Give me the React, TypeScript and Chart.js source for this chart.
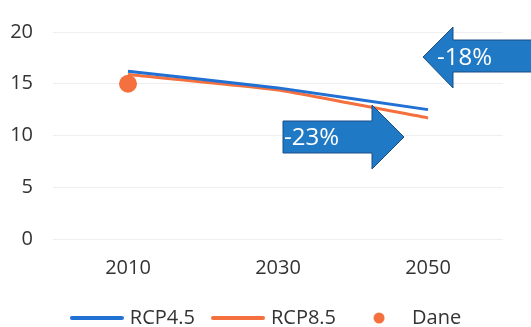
import React, { useEffect, useRef } from "react";
import { Chart, registerables } from "chart.js";

Chart.register(...registerables);

const categories = ["2010", "2030", "2050"];
const rcp45 = [16.2, 14.6, 12.5];
const rcp85 = [15.9, 14.4, 11.7];
const dane = [15.0, null, null];
const yTicks = [0, 5, 10, 15, 20];
const arrowLabels = ["-18%", "-23%"];

const FONT = "'Open Sans', sans-serif";
const BLUE = "#2170d4";
const ORANGE = "#f4703e";
const ARROW_FILL = "#1f79c4";
const ARROW_STROKE = "#1a4f88";

function lineIcon(color: string) {
  const c = document.createElement("canvas");
  c.width = 54;
  c.height = 8;
  const g = c.getContext("2d")!;
  g.strokeStyle = color;
  g.lineWidth = 4;
  g.lineCap = "round";
  g.beginPath();
  g.moveTo(2, 4);
  g.lineTo(52, 4);
  g.stroke();
  return c;
}

function dotIcon(color: string) {
  const c = document.createElement("canvas");
  c.width = 12;
  c.height = 12;
  const g = c.getContext("2d")!;
  g.fillStyle = color;
  g.beginPath();
  g.arc(6, 6, 5.5, 0, Math.PI * 2);
  g.fill();
  return c;
}

const arrowsPlugin = {
  id: "arrows",
  afterDatasetsDraw(chart: any) {
    const ctx = chart.ctx;
    ctx.save();
    ctx.fillStyle = ARROW_FILL;
    ctx.strokeStyle = ARROW_STROKE;
    ctx.lineWidth = 1;
    // left arrow (-18%)
    ctx.beginPath();
    ctx.moveTo(423, 57);
    ctx.lineTo(453, 27);
    ctx.lineTo(453, 40);
    ctx.lineTo(540, 40);
    ctx.lineTo(540, 72);
    ctx.lineTo(453, 72);
    ctx.lineTo(453, 88);
    ctx.closePath();
    ctx.fill();
    ctx.stroke();
    // right arrow (-23%)
    ctx.beginPath();
    ctx.moveTo(283, 121);
    ctx.lineTo(372, 121);
    ctx.lineTo(372, 105);
    ctx.lineTo(404, 137);
    ctx.lineTo(372, 169);
    ctx.lineTo(372, 153);
    ctx.lineTo(283, 153);
    ctx.closePath();
    ctx.fill();
    ctx.stroke();
    ctx.fillStyle = "#ffffff";
    ctx.font = `24px ${FONT}`;
    ctx.textBaseline = "middle";
    ctx.textAlign = "left";
    ctx.fillText(arrowLabels[0], 437, 58);
    ctx.fillText(arrowLabels[1], 284, 138);
    ctx.restore();
  },
};

const legendShift = {
  id: "legendShift",
  afterLayout(chart: any) {
    const lg = chart.legend;
    if (lg) {
      lg.left += 11;
      lg.right += 11;
    }
  },
};

export default function App() {
  const ref = useRef<HTMLCanvasElement>(null);
  useEffect(() => {
    const icons = [lineIcon(BLUE), lineIcon(ORANGE), dotIcon(ORANGE)];
    const chart = new Chart(ref.current!, {
      type: "line",
      data: {
        labels: categories,
        datasets: [
          {
            label: "RCP4.5",
            data: rcp45,
            borderColor: BLUE,
            backgroundColor: BLUE,
            borderWidth: 3,
            pointRadius: 0,
            tension: 0.1,
          },
          {
            label: "RCP8.5",
            data: rcp85,
            borderColor: ORANGE,
            backgroundColor: ORANGE,
            borderWidth: 3,
            pointRadius: 0,
            tension: 0.1,
          },
          {
            label: "Dane",
            data: dane,
            showLine: false,
            borderColor: ORANGE,
            backgroundColor: ORANGE,
            borderWidth: 0,
            pointRadius: 9,
            pointStyle: "circle",
          },
        ],
      },
      options: {
        responsive: false,
        animation: false,
        layout: { padding: { left: 10, right: 28, top: 23, bottom: -11 } },
        scales: {
          x: {
            offset: true,
            grid: { display: false, drawTicks: false },
            border: { display: false },
            ticks: { color: "#333333", font: { family: FONT, size: 20 }, padding: 17 },
            afterFit: (s: any) => {
              s.height = 49;
            },
          },
          y: {
            min: 0,
            max: 20,
            afterBuildTicks: (s: any) => {
              s.ticks = yTicks.map((v) => ({ value: v }));
            },
            afterFit: (s: any) => {
              s.width = 43;
            },
            grid: { color: "#efefef", drawTicks: false },
            border: { display: false },
            ticks: { color: "#333333", font: { family: FONT, size: 20 }, padding: 20 },
          },
        },
        plugins: {
          tooltip: { enabled: false },
          legend: {
            position: "bottom",
            labels: {
              usePointStyle: true,
              pointStyleWidth: 46,
              padding: 20,
              color: "#333333",
              font: { family: FONT, size: 20 },
              generateLabels: (c: any) => {
                const items = Chart.defaults.plugins.legend.labels.generateLabels(c);
                items.forEach((it: any, i: number) => {
                  it.pointStyle = icons[i];
                });
                return items;
              },
            },
          },
        },
      },
      plugins: [arrowsPlugin, legendShift],
    });
    return () => chart.destroy();
  }, []);
  return (
    <div style={{ position: "fixed", left: 0, top: 0, width: 531, height: 327, background: "#fff" }}>
      <canvas ref={ref} width={531} height={327} />
    </div>
  );
}
